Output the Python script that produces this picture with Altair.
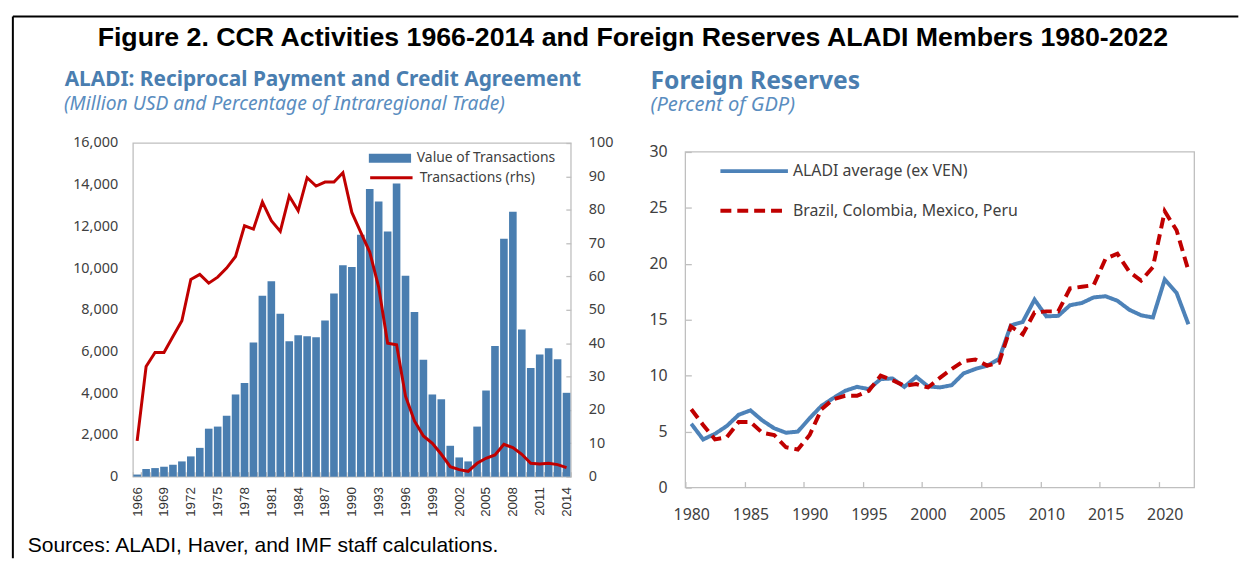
import altair as alt
import pandas as pd

# ---------------- data ----------------
years_ccr = list(range(1966, 2015))
value_tx = [100, 365, 410, 475, 570, 730, 970, 1380, 2300, 2400, 2920, 3940, 4490,
            6430, 8670, 9365, 7810, 6490, 6780, 6730, 6680, 7490, 8780, 10140,
            10050, 11600, 13800, 13190, 11760, 14060, 9630, 7890, 5600, 3940, 3710,
            1480, 920, 730, 2400, 4130, 6270, 11410, 12700, 7060, 5210, 5860, 6160,
            5630, 4020]
share_tx = [10.7, 33, 37.2, 37.2, 42, 46.7, 59.1, 60.6, 58, 59.8, 62.5, 66, 75.2,
            74.2, 82.3, 76.7, 73.5, 84.1, 79.7, 89.6, 87.1, 88.3, 88.3, 91.1,
            79.2, 73.2, 67.3, 56.8, 40, 39.5, 24.1, 16.7, 12.2, 10, 6.7, 3, 2.1,
            1.6, 4, 5.5, 6.5, 9.7, 8.7, 6.7, 4, 3.8, 4, 3.6, 2.7]
ccr_series = ["Value of Transactions", "Transactions (rhs)"]
ccr_left_ticks = [0, 2000, 4000, 6000, 8000, 10000, 12000, 14000, 16000]
ccr_right_ticks = [0, 10, 20, 30, 40, 50, 60, 70, 80, 90, 100]

years_res = list(range(1980, 2023))
aladi_avg = [5.7, 4.3, 4.8, 5.5, 6.5, 6.9, 6.0, 5.3, 4.9, 5.0,
             6.2, 7.3, 8.0, 8.65, 9.0, 8.8, 9.7, 9.75, 9.0, 9.9,
             9.05, 8.95, 9.15, 10.2, 10.6, 10.9, 11.5, 14.5, 14.8, 16.8,
             15.3, 15.35, 16.3, 16.5, 17.0, 17.1, 16.7, 15.9, 15.4, 15.2,
             18.6, 17.4, 14.6]
big4 = [7.0, 5.6, 4.3, 4.5, 5.85, 5.85, 4.9, 4.7, 3.6, 3.4,
        4.7, 7.0, 7.9, 8.2, 8.2, 8.65, 10.0, 9.6, 9.1, 9.25,
        8.95, 9.8, 10.6, 11.3, 11.45, 10.9, 11.15, 14.4, 13.7, 15.65,
        15.75, 15.75, 17.8, 17.95, 18.1, 20.45, 20.9, 19.3, 18.5, 19.7,
        24.7, 23.0, 19.4]
res_series = ["ALADI average (ex VEN)", "Brazil, Colombia, Mexico, Peru"]
res_year_labels = [1980, 1985, 1990, 1995, 2000, 2005, 2010, 2015, 2020]
res_y_ticks = [0, 5, 10, 15, 20, 25, 30]

fig_title = "Figure 2. CCR Activities 1966-2014 and Foreign Reserves ALADI Members 1980-2022"
left_title = "ALADI: Reciprocal Payment and Credit Agreement"
left_sub = "(Million USD and Percentage of Intraregional Trade)"
right_title = "Foreign Reserves"
right_sub = "(Percent of GDP)"
sources = "Sources: ALADI, Haver, and IMF staff calculations."

# ---------------- style ----------------
FONT = "Noto Sans"
ARIAL = "Liberation Sans"
BAR = "#4a7eb0"
LBLUE = "#4d82b8"
RED = "#c00000"
FRAME = "#bfbfbf"
TXT = "#404040"
TITLE = "#4a7eb0"
SUB = "#5a8dc0"

df_ccr = pd.DataFrame({"year": years_ccr, "value": value_tx, "share": share_tx})
df_res = pd.concat([
    pd.DataFrame({"year": years_res, "value": aladi_avg, "series": res_series[0]}),
    pd.DataFrame({"year": years_res, "value": big4, "series": res_series[1]}),
])


def label(txt, x, y, size, color, weight="normal", style="normal", font=FONT, align="left"):
    return alt.Chart(alt.Data(values=[{}])).mark_text(
        text=txt, align=align, baseline="alphabetic", font=font, fontSize=size,
        fontWeight=weight, fontStyle=style, color=color
    ).encode(x=alt.value(x), y=alt.value(y))


LW, LH = 441, 336
RW, RH = 512.6, 347

# ---------------- left panel ----------------
base_l = alt.Chart(df_ccr).transform_calculate(
    s1="'Value of Transactions'", s2="'Transactions (rhs)'"
)
x_l = alt.X("year:O", title=None,
            scale=alt.Scale(paddingInner=0.15, paddingOuter=0.05),
            axis=alt.Axis(labelAngle=-90, labelFont=ARIAL, labelFontSize=13.5,
                          labelColor="#333333",
                          labelExpr="(datum.value - 1966) % 3 == 0 ? datum.label : ''",
                          labelOverlap=False, tickBand="extent", tickSize=5, offset=-5,
                          labelPadding=10))
bars = base_l.mark_bar().encode(
    x=x_l,
    y=alt.Y("value:Q", title=None, scale=alt.Scale(domain=[0, 16000], nice=False),
            axis=alt.Axis(values=ccr_left_ticks, format=",.0f", labelFontSize=14.5,
                          ticks=False, labelPadding=15.4)),
    fill=alt.Fill("s1:N", scale=alt.Scale(domain=[ccr_series[0]], range=[BAR]),
                  legend=alt.Legend(title=None, orient="none", legendX=237.3, legendY=9.3,
                                    symbolType="M-1,-0.21H1V0.21H-1Z", symbolSize=1823,
                                    symbolStrokeWidth=0, clipHeight=12, labelFont=FONT,
                                    labelFontSize=14, labelColor=TXT, labelOffset=5.6,
                                    labelLimit=400, padding=0)),
)
line_l = base_l.mark_line(strokeWidth=3).encode(
    x=alt.X("year:O"),
    y=alt.Y("share:Q", title=None, scale=alt.Scale(domain=[0, 100], nice=False),
            axis=alt.Axis(orient="right", values=ccr_right_ticks, labelFontSize=14.5,
                          tickSize=5, offset=-5, labelPadding=17.7)),
    stroke=alt.Stroke("s2:N", scale=alt.Scale(domain=[ccr_series[1]], range=[RED]),
                      legend=alt.Legend(title=None, orient="none", legendX=237.3, legendY=29,
                                        symbolType="stroke", symbolSize=1823,
                                        symbolStrokeWidth=3, clipHeight=12, labelFont=FONT,
                                        labelFontSize=14, labelColor=TXT, labelOffset=5.6,
                                        labelLimit=400, padding=0)),
)

one = alt.Data(values=[{}])
top_rule = alt.Chart(one).mark_rule(color="black", strokeWidth=2).encode(
    x=alt.value(-120.9), x2=alt.value(1113.3), y=alt.value(-127.4))
left_rule = alt.Chart(one).mark_rule(color="black", strokeWidth=2).encode(
    x=alt.value(-120.9), y=alt.value(-127.4), y2=alt.value(418.3))

left = alt.layer(
    bars, line_l,
    label(fig_title, 503.5, -97.4, 26.9, "black", weight="bold", font=ARIAL, align="center"),
    label(left_title, -68.7, -57.2, 21.0, TITLE, weight="bold"),
    label(left_sub, -69.4, -33.2, 19.4, SUB, style="italic"),
    label(sources, -106, 411.6, 21.2, "black", font=ARIAL),
    top_rule, left_rule,
).resolve_scale(y="independent").properties(width=LW, height=LH)

# ---------------- right panel ----------------
leg_r = alt.Legend(title=None, orient="none", legendX=33.3, legendY=18.3,
                   symbolSize=4624, symbolStrokeWidth=4, clipHeight=20, rowPadding=20,
                   labelFont=FONT, labelFontSize=16, labelColor=TXT, labelOffset=3,
                   labelLimit=400, padding=0)
x_r = alt.X("year:Q", title=None,
            scale=alt.Scale(domain=[1979.5, 2022.5], nice=False, zero=False),
            axis=alt.Axis(values=res_year_labels, format="d", labelFontSize=16,
                          labelFlush=False, tickSize=6, offset=-6, tickOffset=-5.95,
                          labelOffset=5.95, labelPadding=19))
y_r = alt.Y("value:Q", title=None,
            scale=alt.Scale(domain=[0, 30], range=[RH, 9], nice=False),
            axis=alt.Axis(values=res_y_ticks, labelFontSize=16, labelFlush=False,
                          tickSize=6, offset=-6, labelPadding=18.4))
lines_r = alt.Chart(df_res).mark_line(strokeWidth=4).encode(
    x=x_r, y=y_r,
    color=alt.Color("series:N", scale=alt.Scale(domain=res_series, range=[LBLUE, RED]),
                    legend=leg_r),
    strokeDash=alt.StrokeDash("series:N",
                              scale=alt.Scale(domain=res_series, range=[[1, 0], [11, 6]]),
                              legend=leg_r),
)
frame_r = alt.Chart(one).mark_rect(fillOpacity=0, stroke=FRAME, strokeWidth=1.3).encode(
    x=alt.datum(1979.5), x2=alt.datum(2022.5), y=alt.datum(0), y2=alt.datum(30))

right = alt.layer(
    frame_r, lines_r,
    label(right_title, -35, -54.0, 24.8, TITLE, weight="bold"),
    label(right_sub, -35, -32.6, 20.2, SUB, style="italic"),
).properties(width=RW, height=RH, view=alt.ViewBackground(stroke=None))

chart = alt.hconcat(left, right, spacing=115.4, bounds="flush").resolve_scale(
    color="independent", strokeDash="independent", fill="independent", stroke="independent"
).resolve_legend(
    color="independent", strokeDash="independent", fill="independent", stroke="independent"
).properties(
    padding={"left": 2.8, "top": 4.0, "right": 0, "bottom": 0}
).configure_view(stroke=FRAME, strokeWidth=1.3).configure_axis(
    grid=False, domain=False, labelFont=FONT, labelColor=TXT, tickColor=FRAME, tickWidth=1.3
)

chart.save("out.html", embed_options={"renderer": "svg", "actions": False})
